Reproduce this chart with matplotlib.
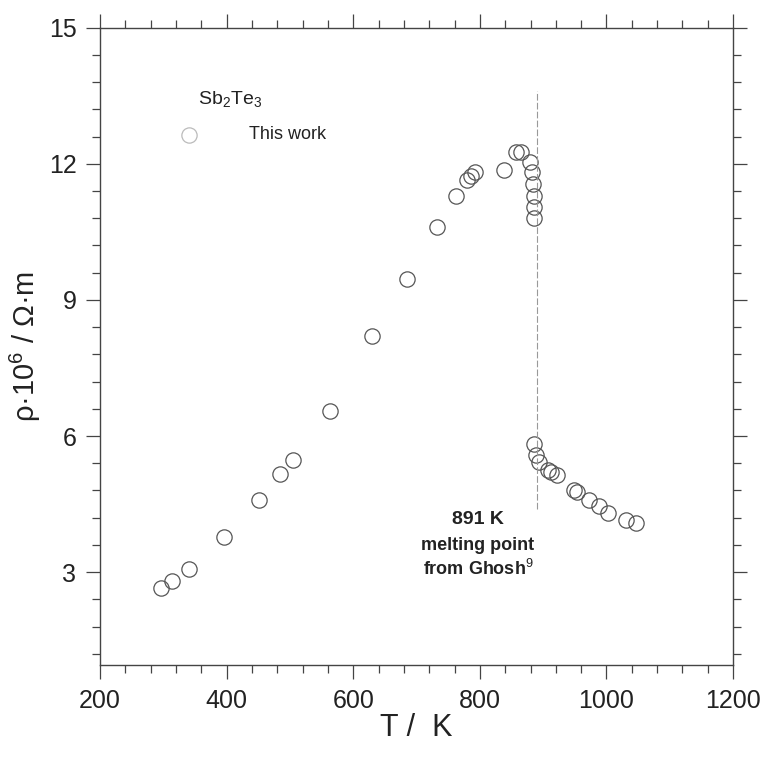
import matplotlib.pyplot as plt
from matplotlib.ticker import MultipleLocator

plt.rcParams['font.family'] = ['Liberation Sans', 'DejaVu Sans']
plt.rcParams['mathtext.fontset'] = 'custom'
plt.rcParams['mathtext.rm'] = 'Liberation Sans'

# solid Sb2Te3, heating up to the melting point
T_solid = [297, 314, 340, 395, 451, 485, 504, 563, 630, 685, 733, 762, 780, 786, 793,
           838, 857, 865, 879, 882, 884, 885, 886, 886]
rho_solid = [2.65, 2.80, 3.07, 3.77, 4.59, 5.16, 5.47, 6.55, 8.20, 9.47, 10.60, 11.30,
             11.65, 11.74, 11.83, 11.87, 12.25, 12.27, 12.05, 11.83, 11.55, 11.30, 11.05, 10.80]

# liquid
T_liquid = [886, 889, 894, 907, 913, 922, 949, 953, 972, 988, 1003, 1031, 1047]
rho_liquid = [5.83, 5.58, 5.43, 5.25, 5.20, 5.14, 4.81, 4.77, 4.59, 4.46, 4.30, 4.15, 4.08]

T_melt = 891
melt_line = (4.4, 13.6)

fig = plt.figure(figsize=(7.64, 7.69), dpi=100)
ax = fig.add_axes([0.131, 0.135, 0.8285, 0.829])

marker_style = dict(marker='o', linestyle='none', markersize=11, markerfacecolor='none',
                    markeredgecolor='#555555', markeredgewidth=0.9)
ax.plot(T_solid, rho_solid, **marker_style)
ax.plot(T_liquid, rho_liquid, **marker_style)

# melting point line
ax.plot([T_melt, T_melt], melt_line, color='#999999', linewidth=0.8, linestyle=(0, (6, 2)))

ax.set_xlim(200, 1200)
ax.set_ylim(0.95, 15)
ax.xaxis.set_major_locator(MultipleLocator(200))
ax.xaxis.set_minor_locator(MultipleLocator(40))
ax.yaxis.set_major_locator(MultipleLocator(3))
ax.yaxis.set_minor_locator(MultipleLocator(0.6))
ax.tick_params(which='both', direction='out', top=True, right=True, colors='#444444',
               labelcolor='#222222', labelsize=18, width=0.9)
ax.tick_params(which='major', length=10, pad=7)
ax.tick_params(which='minor', length=6)
for s in ax.spines.values():
    s.set_color('#444444')
    s.set_linewidth(1.0)

ax.set_xlabel('T /  K', fontsize=22, color='#222222', labelpad=0)
ax.set_ylabel('ρ·10$^6$ / Ω·m', fontsize=21, color='#222222', labelpad=4)

# legend-like labels
ax.text(0.155, 0.887, r'Sb$_2$Te$_3$', transform=ax.transAxes, fontsize=14, color='#222222',
        va='center')
ax.plot([0.14], [0.832], transform=ax.transAxes, **dict(marker_style, markeredgecolor='#bbbbbb'))
ax.text(0.235, 0.832, 'This work', transform=ax.transAxes, fontsize=13, color='#222222',
        va='center')

ax.text(797, 4.15, '891 K', ha='center', va='center', fontsize=14,
        fontweight='bold', color='#222222')
ax.text(797, 3.78, 'melting point\nfrom Ghosh$^9$', ha='center', va='top',
        fontsize=13, fontweight='bold', color='#222222', linespacing=1.3)

fig.savefig('out.png', dpi=100)
